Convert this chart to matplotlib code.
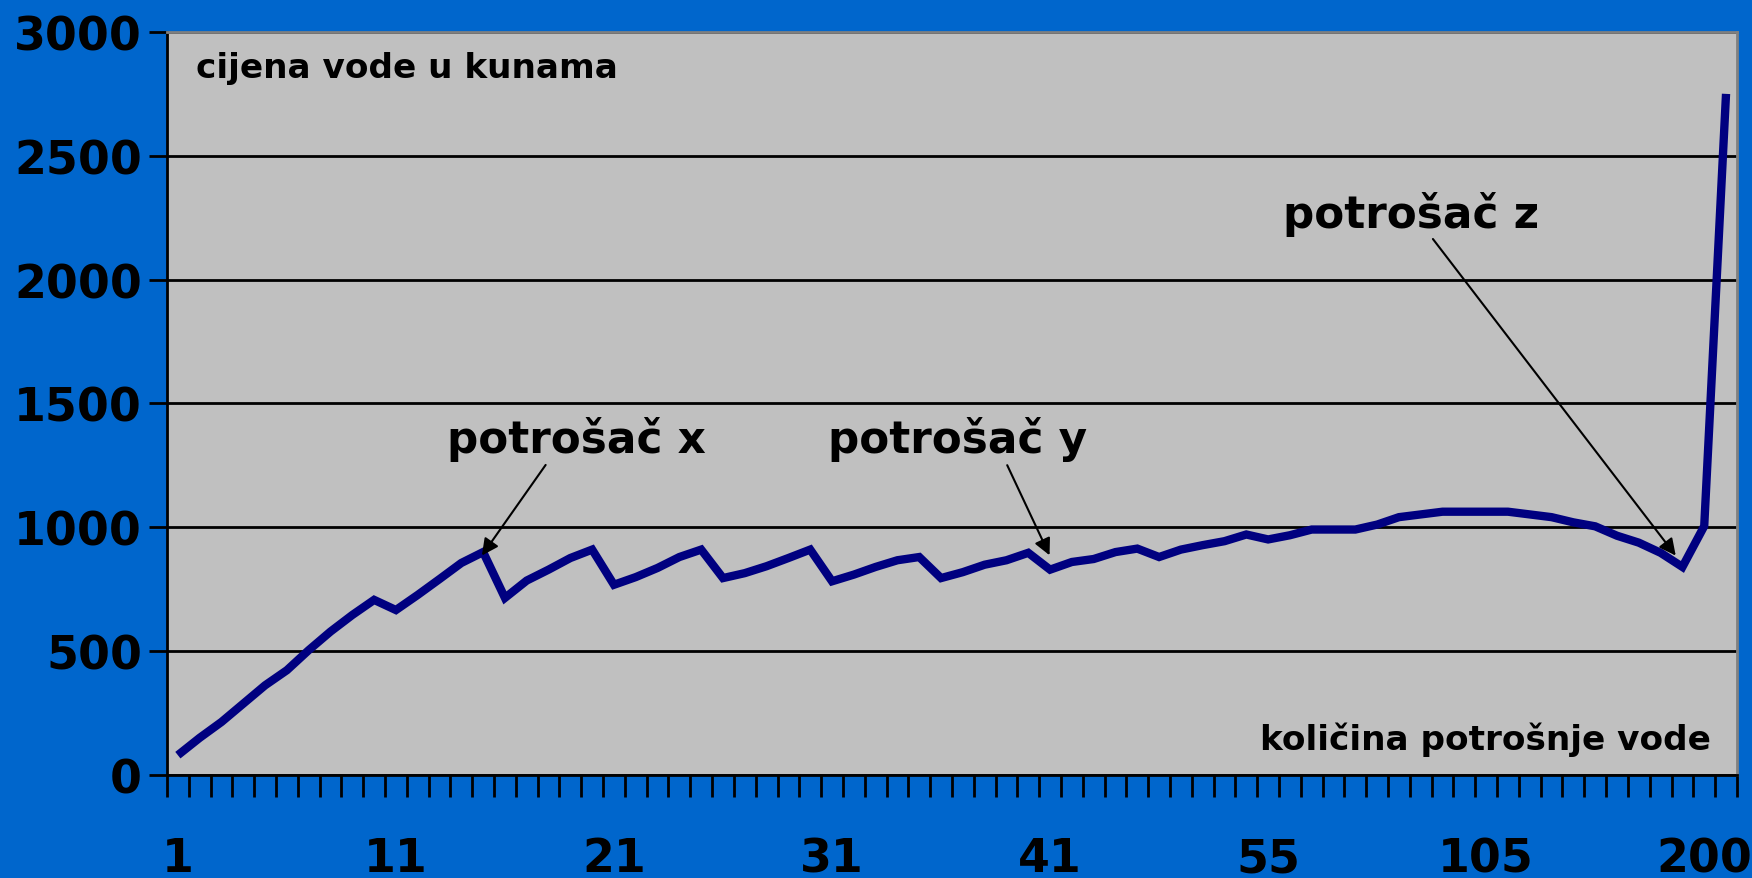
import matplotlib.pyplot as plt

plt.rcParams['font.family'] = ['DejaVu Sans']
plt.rcParams['font.weight'] = 'bold'

# category positions 0..71, only every 10th carries a label
tick_pos = [0, 10, 20, 30, 40, 50, 60, 70]
tick_labels = ['1', '11', '21', '31', '41', '55', '105', '200']

price = [80, 150, 214, 288, 362, 423, 504, 579, 646, 707,
         666, 727, 791, 856, 900, 715, 785, 829, 876, 910,
         768, 799, 836, 880, 910, 795, 815, 843, 876, 910,
         782, 809, 840, 867, 880, 795, 819, 849, 867, 897,
         829, 860, 872, 900, 914, 880, 910, 928, 944, 971,
         951, 968, 991, 991, 991, 1011, 1041, 1052, 1063, 1063,
         1063, 1063, 1052, 1041, 1020, 1004, 966, 938, 897, 840,
         1005, 2750]

fig = plt.figure(figsize=(17.52, 8.79), dpi=100)
fig.patch.set_facecolor('#0066CC')
ax = fig.add_axes([0.0953, 0.1172, 0.8961, 0.8453])
ax.set_facecolor('#C0C0C0')

ax.plot(range(len(price)), price, color='#000080', lw=6,
        solid_joinstyle='miter', solid_capstyle='butt', zorder=3)

ax.set_xlim(-0.5, len(price) - 0.5)
ax.set_ylim(0, 3000)
ax.set_yticks(range(0, 3001, 500))
ax.yaxis.grid(True, color='black', lw=2)
ax.set_axisbelow(True)

ax.set_xticks(tick_pos)
ax.set_xticklabels(tick_labels)
ax.set_xticks([i - 0.5 for i in range(len(price) + 1)], minor=True)
ax.tick_params(axis='x', which='major', length=0, pad=44, labelsize=33)
ax.tick_params(axis='x', which='minor', length=16, width=2, direction='out')
ax.tick_params(axis='y', length=13, width=2, pad=5, labelsize=33)
for lab in ax.get_xticklabels() + ax.get_yticklabels():
    lab.set_fontweight('bold')

for s in ['left', 'bottom']:
    ax.spines[s].set_color('black')
    ax.spines[s].set_linewidth(2)
for s in ['top', 'right']:
    ax.spines[s].set_color('#808080')
    ax.spines[s].set_linewidth(2)

ax.text(0.83, 2856, 'cijena vode u kunama', fontsize=24.7, fontweight='bold',
        va='center', ha='left')
ax.text(70.3, 145, 'količina potrošnje vode', fontsize=24.7, fontweight='bold',
        va='center', ha='right')

arrow = dict(arrowstyle='-|>', color='black', lw=1.5, mutation_scale=25)
ax.annotate('', xy=(13.87, 877), xytext=(16.94, 1261), arrowprops=arrow)
ax.text(12.33, 1360, 'potrošač x', fontsize=31.5, fontweight='bold', va='center')
ax.annotate('', xy=(40.03, 877), xytext=(37.98, 1261), arrowprops=arrow)
ax.text(29.82, 1360, 'potrošač y', fontsize=31.5, fontweight='bold', va='center')
ax.annotate('', xy=(68.77, 877), xytext=(57.48, 2173), arrowprops=arrow)
ax.text(50.7, 2268, 'potrošač z', fontsize=31.5, fontweight='bold', va='center')

fig.savefig('out.png', dpi=100, facecolor=fig.get_facecolor())
